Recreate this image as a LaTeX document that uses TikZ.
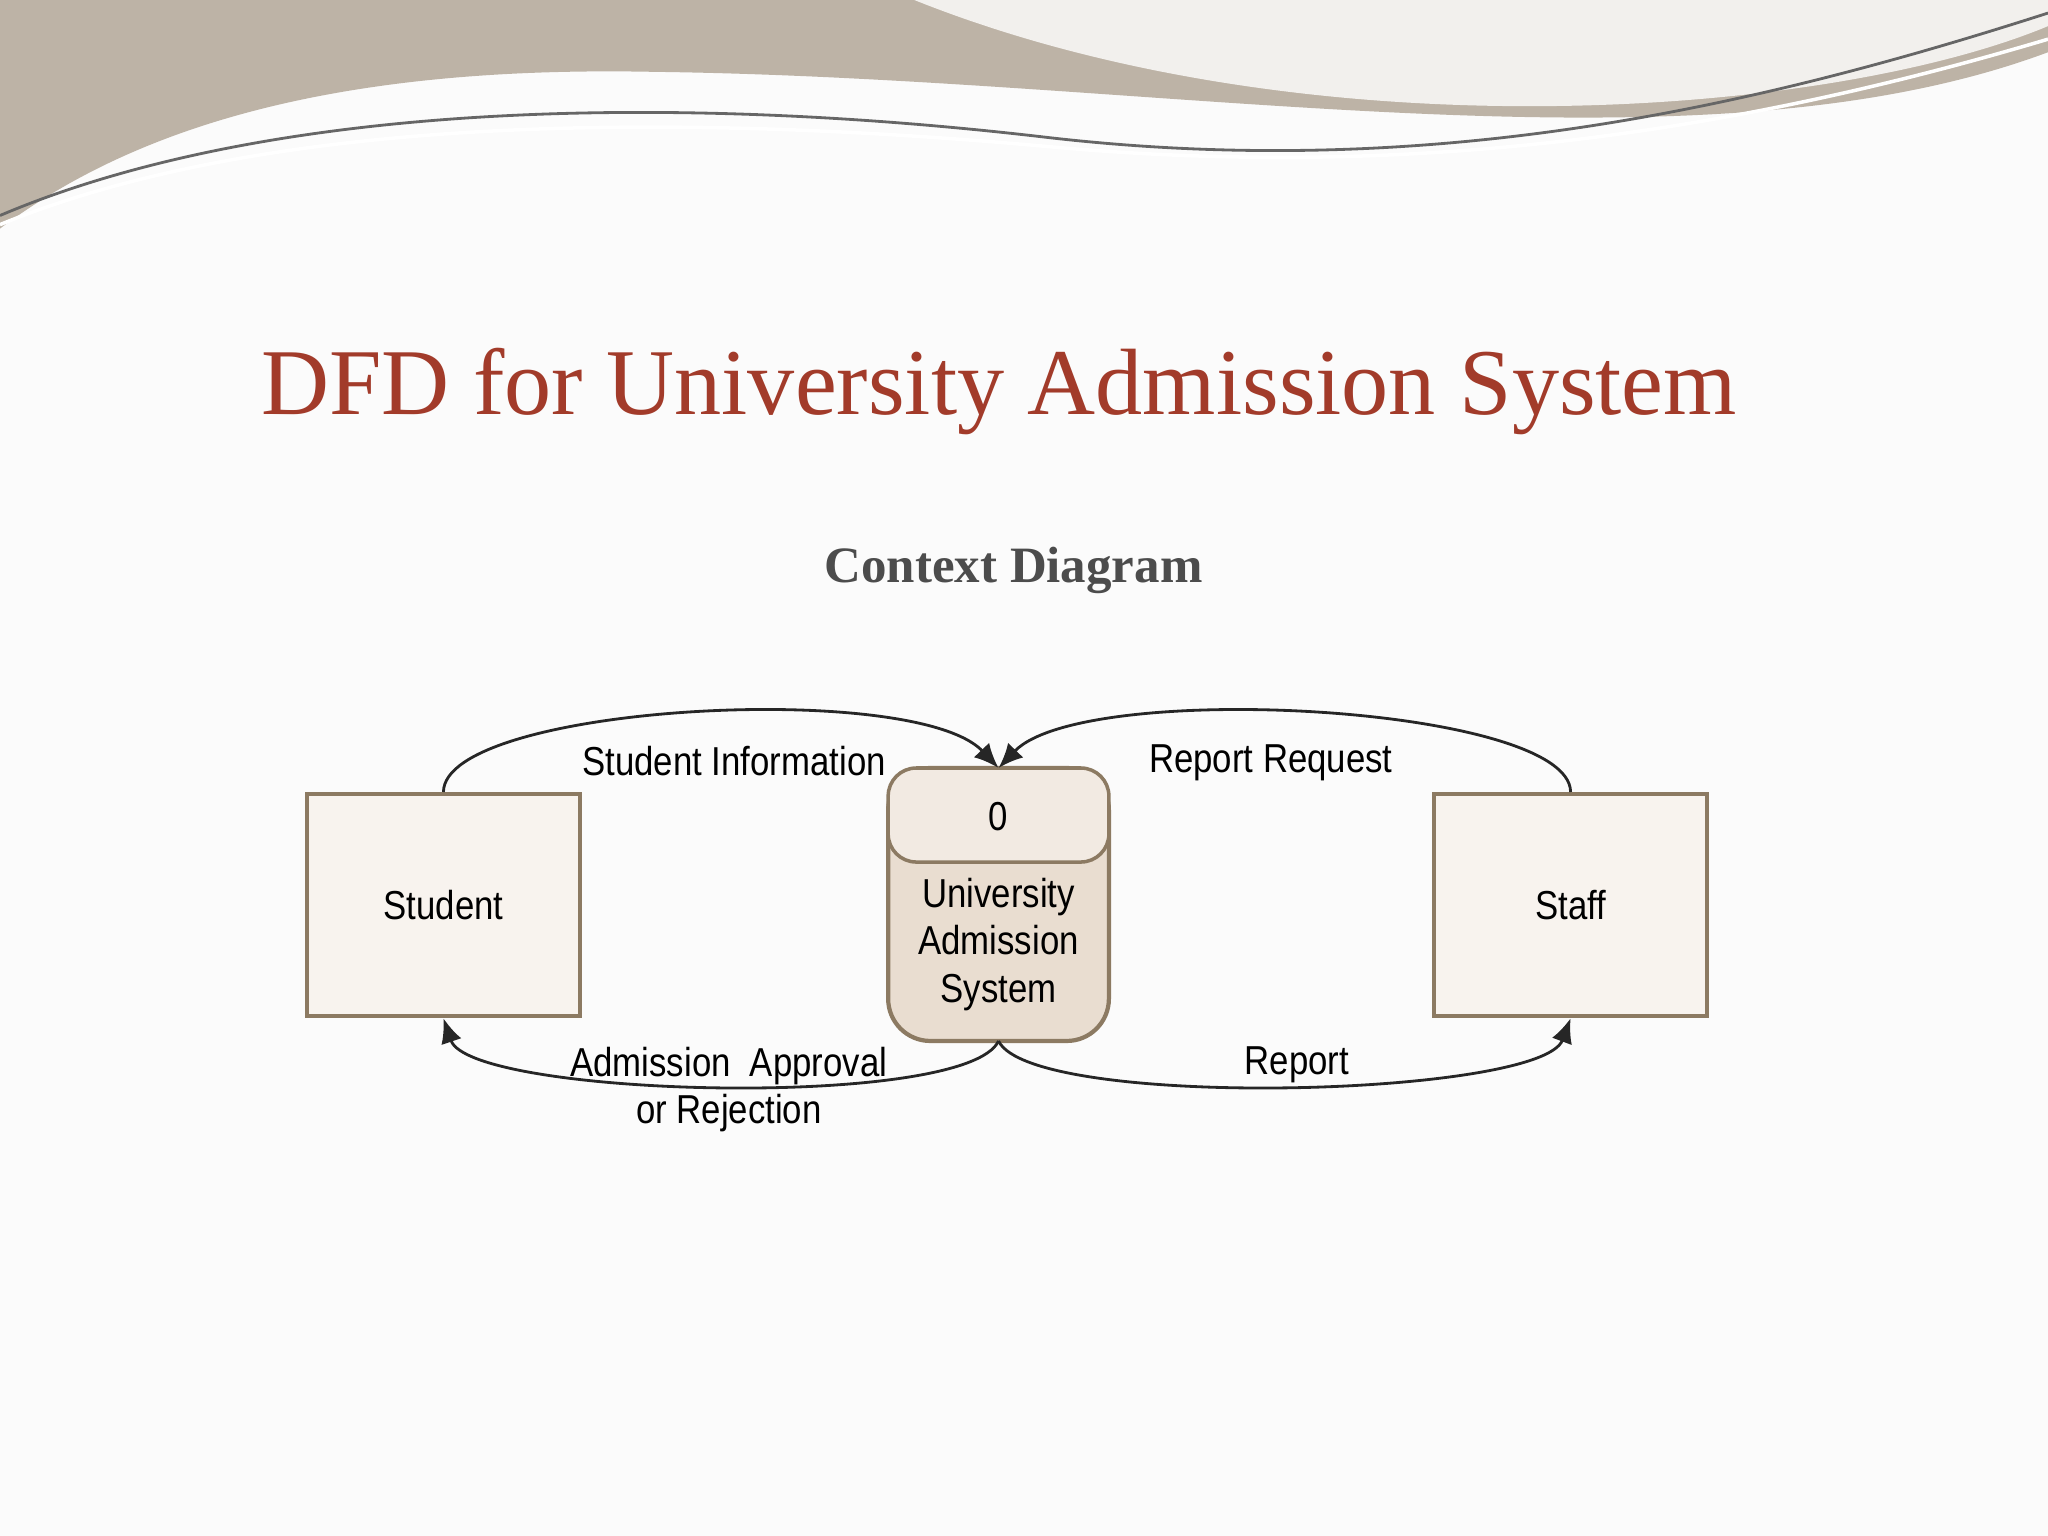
\documentclass[tikz,border=0pt]{standalone}
\usepackage{fontspec}
\setmainfont{Liberation Serif}
\setsansfont[FakeStretch=0.86]{Liberation Sans}
\usetikzlibrary{arrows.meta}
\definecolor{titlered}{HTML}{A23B2A}
\definecolor{boxedge}{HTML}{8C7A62}
\definecolor{boxfill}{HTML}{F8F3EE}
\definecolor{procfill}{HTML}{E9DDD0}
\definecolor{band}{HTML}{BDB3A6}
\tikzset{
  x=0.013061cm, y=-0.013061cm,
  entity/.style={draw=boxedge, line width=1.2pt, fill=boxfill, minimum width=209*0.013061cm, minimum height=170*0.013061cm, font=\sffamily\fontsize{11.5}{13}\selectfont},
  flow/.style={draw=black!85, line width=0.8pt, -{Latex[length=7pt,width=6pt]}},
  lbl/.style={font=\sffamily\fontsize{11.5}{13.5}\selectfont, align=center}
}
\begin{document}
\begin{tikzpicture}
\useasboundingbox (0,0) rectangle (1568,1176);
\fill[white!97!gray] (0,0) rectangle (1568,1176);
% top decorative bands
\fill[band] (0,0) -- (1568,0) -- (1568,40) .. controls (1300,140) and (900,60) .. (500,55) .. controls (250,50) and (100,100) .. (0,175) -- cycle;
\fill[white!80!band] (700,0) -- (1568,0) -- (1568,20) .. controls (1400,90) and (1000,120) .. (700,0) -- cycle;
\draw[black!60, line width=0.8pt] (0,165) .. controls (200,80) and (500,70) .. (800,105) .. controls (1100,140) and (1350,80) .. (1568,10);
\draw[white, line width=1pt] (0,172) .. controls (200,90) and (500,85) .. (800,112) .. controls (1100,140) and (1350,95) .. (1568,30);
% titles
\node[text=titlered, font=\fontsize{26.8}{30}\selectfont] (title) at (765,300) {DFD for University Admission System};
\node[text=black!70, font=\bfseries\fontsize{14.5}{18}\selectfont] (sub) at (776,437) {Context Diagram};
% entities
\node[entity] (student) at (339.5,693) {Student};
\node[entity] (staff) at (1202.5,693) {Staff};
% process
\draw[boxedge, line width=1.2pt, fill=procfill, rounded corners=12pt] (680,588) rectangle (849,797);
\draw[boxedge, line width=1pt, fill=boxfill!60!procfill, rounded corners=8pt] (680,588) rectangle (849,660);
\node[lbl] (pid) at (764.5,625) {0};
\node[lbl, text width=150*0.013061cm] (proc) at (764.5,723) {University\\Admission\\System};
\coordinate (ptop) at (764.5,588);
\coordinate (pbot) at (764.5,797);
% flows
\draw[flow] (student.north) .. controls (340,540) and (700,520) .. (ptop);
\draw[flow] (staff.north) .. controls (1202,540) and (830,520) .. (ptop);
\draw[flow] (pbot) .. controls (740,850) and (360,840) .. (student.south);
\draw[flow] (pbot) .. controls (790,850) and (1180,840) .. (staff.south);
\node[lbl] (l1) at (562,583) {Student Information};
\node[lbl] (l2) at (973,584) {Report Request};
\node[lbl] (l3) at (558,834) {Admission\ \ Approval\\or Rejection};
\node[lbl] (l4) at (993,815) {Report};
\end{tikzpicture}
\end{document}
